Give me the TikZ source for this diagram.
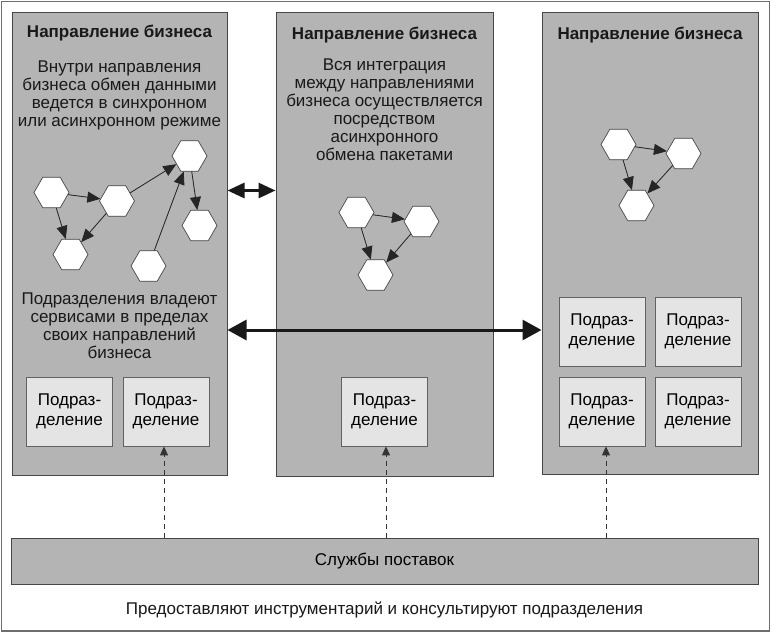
\documentclass[tikz,border=0pt]{standalone}
\usepackage{fontspec}
\setmainfont{Liberation Sans}
\usetikzlibrary{arrows.meta,shapes.geometric}
\definecolor{panelgray}{RGB}{180,180,180}
\definecolor{subgray}{RGB}{228,228,228}
\definecolor{edgegray}{RGB}{70,70,70}
\definecolor{framegray}{RGB}{110,110,110}
\begin{document}
\begin{tikzpicture}[x=1pt,y=-1pt,
  panel/.style={draw=edgegray, fill=panelgray, line width=1pt, inner sep=0pt},
  subbox/.style={draw=edgegray!85, fill=subgray, line width=0.8pt, minimum width=86pt, minimum height=69pt, inner sep=0pt, align=center, font=\fontsize{17}{20}\selectfont},
  hex/.style={regular polygon, regular polygon sides=6, minimum size=35pt, inner sep=0pt, draw=edgegray, fill=white, line width=0.7pt},
  hexarrow/.style={-{Triangle[length=13pt,width=11pt]}, line width=0.8pt, draw=black!85, fill=black!85},
  bigarrow/.style={{Triangle[length=19pt,width=20pt]}-{Triangle[length=19pt,width=20pt]}, line width=3pt, draw=black!90},
  smallarrow/.style={{Triangle[length=17pt,width=15pt]}-{Triangle[length=17pt,width=15pt]}, line width=3pt, draw=black!90},
  dasharrow/.style={-{Triangle[length=9pt,width=8pt]}, line width=0.9pt, dash pattern=on 5pt off 4pt, draw=black!80},
  title/.style={font=\fontsize{17}{18}\selectfont\bfseries, text=black!90, inner sep=0pt},
  body/.style={font=\fontsize{17}{18}\selectfont, align=center, text=black!90, inner sep=0pt}
]
\useasboundingbox (0,0) rectangle (771,634);
\fill[white] (0,0) rectangle (771,634);
\draw[framegray, line width=1.3pt] (1.5,1.5) rectangle (769.5,631);

% panels
\node[panel, minimum width=215pt, minimum height=462pt] (p1) at (119.5,244) {};
\node[panel, minimum width=217pt, minimum height=463pt] (p2) at (384.5,244.5) {};
\node[panel, minimum width=216pt, minimum height=461pt] (p3) at (650,243.5) {};

% titles and texts
\node[title] (t1) at (119.5,33) {Направление бизнеса};
\node[title] (t2) at (384.5,35) {Направление бизнеса};
\node[title] (t3) at (650,35) {Направление бизнеса};
\node[body] (d1) at (119.5,95) {Внутри направления\\бизнеса обмен данными\\ведется в синхронном\\или асинхронном режиме};
\node[body] (d1b) at (119.5,325.5) {Подразделения владеют\\сервисами в пределах\\своих направлений\\бизнеса};
\node[body] (d2) at (384.5,110) {Вся интеграция\\между направлениями\\бизнеса осуществляется\\посредством\\асинхронного\\обмена пакетами};

% hexagons panel 1
\node[hex] (h1) at (51.5,192.5) {};
\node[hex] (h2) at (117,201) {};
\node[hex] (h3) at (70.5,254.5) {};
\node[hex] (h4) at (189.5,156) {};
\node[hex] (h5) at (199.5,225.5) {};
\node[hex] (h6) at (148.5,266) {};
\draw[hexarrow] (h1) -- (h2);
\draw[hexarrow] (h1) -- (h3);
\draw[hexarrow] (h2) -- (h3);
\draw[hexarrow] (h2) -- (h4);
\draw[hexarrow] (h6) -- (h4);
\draw[hexarrow] (h4) -- (h5);

% hexagons panel 2
\node[hex] (g1) at (356.5,212.5) {};
\node[hex] (g2) at (421.5,221.5) {};
\node[hex] (g3) at (375.5,275) {};
\draw[hexarrow] (g1) -- (g2);
\draw[hexarrow] (g1) -- (g3);
\draw[hexarrow] (g2) -- (g3);

% hexagons panel 3
\node[hex] (k1) at (618.5,144.5) {};
\node[hex] (k2) at (683.5,153.5) {};
\node[hex] (k3) at (636.5,205.5) {};
\draw[hexarrow] (k1) -- (k2);
\draw[hexarrow] (k1) -- (k3);
\draw[hexarrow] (k2) -- (k3);

% sub-divisions
\node[subbox] (a1) at (69.5,411.5) {Подраз-\\деление};
\node[subbox] (a2) at (166,411.5) {Подраз-\\деление};
\node[subbox] (b1) at (384.5,411.5) {Подраз-\\деление};
\node[subbox] (c1) at (602,331.5) {Подраз-\\деление};
\node[subbox] (c2) at (698,331.5) {Подраз-\\деление};
\node[subbox] (c3) at (602,411.5) {Подраз-\\деление};
\node[subbox] (c4) at (698,411.5) {Подраз-\\деление};

% bottom bar
\node[panel, minimum width=747pt, minimum height=46pt, font=\fontsize{17}{18}\selectfont] (bar) at (384.5,561) {Службы поставок};
\node[body] (note) at (384.5,610) {Предоставляют инструментарий и консультируют подразделения};

% big arrows
\coordinate (ybig) at (0,330);
\coordinate (ysmall) at (0,190.5);
\draw[bigarrow] (p1.east |- ybig) -- (p3.west |- ybig);
\draw[smallarrow] (p1.east |- ysmall) -- (p2.west |- ysmall);

% dashed arrows
\draw[dasharrow] ([xshift=-2pt]a2.south |- bar.north) -- ([xshift=-2pt]a2.south);
\draw[dasharrow] ([xshift=1.5pt]b1.south |- bar.north) -- ([xshift=1.5pt]b1.south);
\draw[dasharrow] ([xshift=4pt]c3.south |- bar.north) -- ([xshift=4pt]c3.south);
\end{tikzpicture}
\end{document}
